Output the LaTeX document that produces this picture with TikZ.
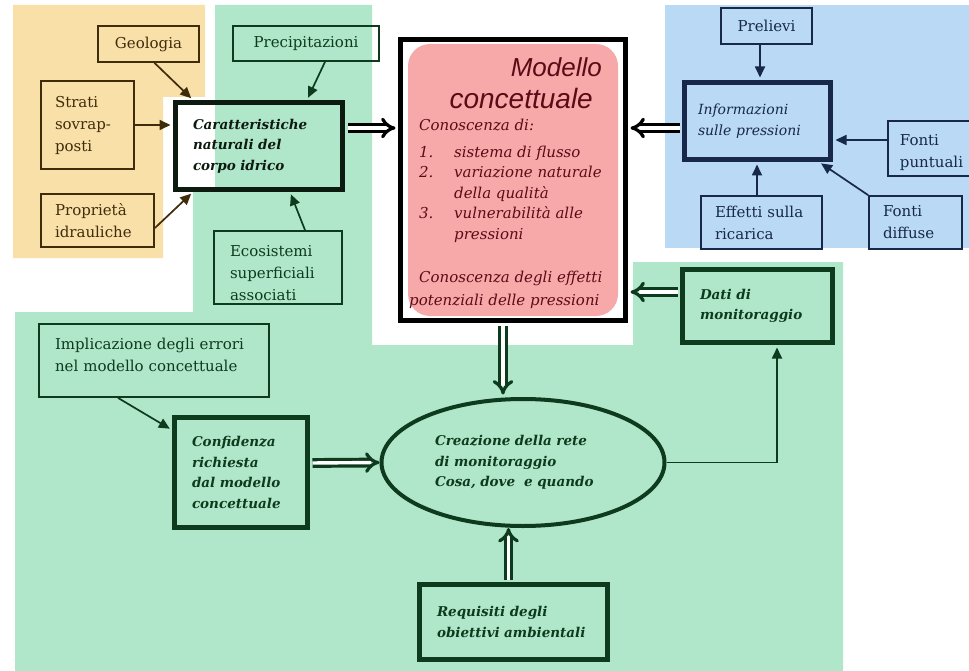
\documentclass[tikz,border=0pt]{standalone}
\usepackage{fontspec}
\setmainfont{DejaVu Serif}
\newfontfamily\titlefont{Liberation Sans}
\usetikzlibrary{arrows.meta,positioning,shapes.geometric}
\definecolor{bgyellow}{HTML}{F9DFA8}
\definecolor{bggreen}{HTML}{B0E6C9}
\definecolor{bgblue}{HTML}{BAD9F5}
\definecolor{pinkfill}{HTML}{F7A9A9}
\definecolor{inkbrown}{HTML}{3E2C0B}
\definecolor{inkgreen}{HTML}{0E3B1E}
\definecolor{inknavy}{HTML}{17284A}
\definecolor{inkred}{HTML}{5C0B16}
\definecolor{inkdark}{HTML}{0D1A10}

\begin{document}
\begin{tikzpicture}[x=1pt,y=-1pt,inner sep=0pt,
	box/.style={draw,rectangle,line width=1.8pt,align=left,font=\fontsize{15}{22}\selectfont},
	heavy/.style={draw,rectangle,line width=5pt,align=left,font=\fontsize{13.5}{20.5}\selectfont\bfseries\itshape},
	link/.style={draw,line width=1.7pt,-{Triangle[length=11pt,width=10pt]},shorten >=2.5pt},
	flow/.style={draw,line width=3.2pt,double=white,double distance=3.4pt,-{Implies},shorten >=2.5pt,shorten <=2.5pt}]
	\useasboundingbox (0,0) rectangle (969,671);
	\fill[bgyellow] (13,5) -- (205,5) -- (205,97) -- (163,97) -- (163,258) -- (13,258) -- cycle;
	\fill[bggreen] (215,5) -- (372,5) -- (372,345) -- (633,345) -- (633,262) -- (843,262)
		-- (843,671) -- (15,671) -- (15,312) -- (193,312) -- (193,192) -- (215,192) -- cycle;
	\fill[bgblue] (665,5) rectangle (969,248);

	\node[box,draw=inkbrown,text=inkbrown,minimum width=101pt,minimum height=36pt,align=center] (geo) at (148.5,44) {Geologia};
	\node[box,draw=inkgreen,text=inkgreen,minimum width=146pt,minimum height=35pt,align=center] (prec) at (306,43.5) {Precipitazioni};
	\node[box,draw=inkbrown,text=inkbrown,minimum width=93pt,minimum height=88pt,text width=65pt] (strati) at (87.5,125) {Strati\\sovrap-\\posti};
	\node[box,draw=inkbrown,text=inkbrown,minimum width=113pt,minimum height=53pt,text width=85pt] (prop) at (97.5,220.5) {Proprietà\\idrauliche};
	\node[heavy,draw=inkdark,text=inkdark,minimum width=167pt,minimum height=87pt,text width=132pt] (car) at (259,146) {Caratteristiche\\naturali del\\corpo idrico};
	\node[box,draw=inkgreen,text=inkgreen,minimum width=128pt,minimum height=73pt,text width=96pt] (eco) at (278,267.5) {\rule{0pt}{22pt}Ecosistemi\\superficiali\\associati};

	\node[heavy,draw=black,fill=white,minimum width=225pt,minimum height=281pt] (modello) at (513,180) {};
	\node[fill=pinkfill,rounded corners=22pt,minimum width=210pt,minimum height=272pt] (modfill) at (modello.center) {};
	\node[anchor=north east,align=right,text=inkred,font=\titlefont\itshape\fontsize{26}{32}\selectfont] (title) at (602,57) {Modello\\{\fontsize{28}{32}\selectfont concettuale}\hspace*{9pt}};
	\node[anchor=north west,align=left,text=inkred,font=\fontsize{15}{20.5}\selectfont\itshape] (know) at (419,119) {Conoscenza di:\\[6pt]
		\makebox[35pt][l]{1.}sistema di flusso\\
		\makebox[35pt][l]{2.}variazione naturale\\
		\hspace*{35pt}della qualità\\
		\makebox[35pt][l]{3.}vulnerabilità alle\\
		\hspace*{35pt}pressioni\\[23pt]
		Conoscenza degli effetti\\[2pt]
		\hspace*{-10pt}potenziali delle pressioni};

	\node[heavy,draw=inknavy,text=inknavy,font=\fontsize{14}{20.5}\selectfont\itshape,minimum width=146pt,minimum height=77pt,text width=119pt] (info) at (757.5,121) {Informazioni\\sulle pressioni};
	\node[box,draw=inknavy,text=inknavy,minimum width=91pt,minimum height=36pt,align=center] (prel) at (766.5,26) {Prelievi};
	\node[box,draw=inknavy,text=inknavy,anchor=west,minimum width=100pt,minimum height=55pt,text width=76pt] (fpunt) at (887,148.5) {\rule{0pt}{20pt}Fonti\\puntuali};
	\node[box,draw=inknavy,text=inknavy,minimum width=121pt,minimum height=53pt,text width=93pt] (eff) at (761.5,222.5) {Effetti sulla\\ricarica};
	\node[box,draw=inknavy,text=inknavy,minimum width=93pt,minimum height=53pt,text width=65pt] (fdiff) at (915.5,222.5) {Fonti\\diffuse};

	\node[heavy,draw=inkgreen,text=inkgreen,minimum width=150pt,minimum height=73pt,text width=115pt] (dati) at (757.5,306) {Dati di\\monitoraggio};
	\node[ellipse,draw=inkgreen,line width=4pt,text=inkgreen,align=left,font=\fontsize{13.5}{20.5}\selectfont\bfseries\itshape,minimum width=283pt,minimum height=127pt,text width=176pt] (crea) at (523,462.5) {Creazione della rete\\di monitoraggio\\Cosa, dove\ \ e quando};
	\node[heavy,draw=inkgreen,text=inkgreen,minimum width=188pt,minimum height=75pt,text width=153pt] (req) at (513.5,622) {Requisiti degli\\obiettivi ambientali};
	\node[box,draw=inkgreen,text=inkgreen,minimum width=230pt,minimum height=73pt,text width=198pt] (impl) at (154,360.5) {Implicazione degli errori\\nel modello concettuale\rule[-12pt]{0pt}{0pt}};
	\node[heavy,draw=inkgreen,text=inkgreen,minimum width=133pt,minimum height=110pt,text width=98pt] (conf) at (241,472.5) {Confidenza\\richiesta\\dal modello\\concettuale};

\path[every edge/.append style={link}]
	([xshift=6pt]geo.south) edge[inkbrown] ([xshift=-66pt]car.north)
	([xshift=19pt]prec.south) edge[inkgreen] ([xshift=48pt]car.north)
	(strati.east) edge[inkbrown] (strati.east -| car.west)
	([yshift=-7.5pt]prop.east) edge[inkbrown] ([xshift=-66pt]car.south)
	([xshift=27pt]eco.north) edge[inkgreen] ([xshift=31pt]car.south)
	([xshift=-6.5pt]prel.south) edge[inknavy] ([xshift=-6.5pt]prel.south |- info.north)
	([yshift=8.5pt]fpunt.west) edge[inknavy] ([yshift=8.5pt]fpunt.west -| info.east)
	([xshift=-4.5pt]eff.north) edge[inknavy] ([xshift=-4.5pt]eff.north |- info.south)
	(fdiff.north west) edge[inknavy] ([xshift=-14pt]info.south east)
	([xshift=-36pt]impl.south) edge[inkgreen] ([yshift=-15pt]conf.north west)
	(crea.east) edge[inkgreen,to path={-| (\tikztotarget)}] ([xshift=19.5pt]dati.south);
\path[every edge/.append style={flow}]
	([yshift=18pt]car.east) edge[black] ([yshift=18pt]car.east -| modello.west)
	([yshift=-7pt]info.west) edge[black] ([yshift=-7pt]info.west -| modello.east)
	([yshift=14pt]dati.west) edge[inkgreen] ([yshift=14pt]dati.west -| modello.east)
	([xshift=-10pt]modello.south) edge[inkgreen] ([xshift=-10pt]modello.south |- crea.north)
	([yshift=9.5pt]conf.east) edge[inkgreen,shorten >=0pt] (crea.west)
	([xshift=-5pt]req.north) edge[inkgreen,shorten >=0pt] ([xshift=-5pt]req.north |- crea.south);
\end{tikzpicture}
\end{document}
